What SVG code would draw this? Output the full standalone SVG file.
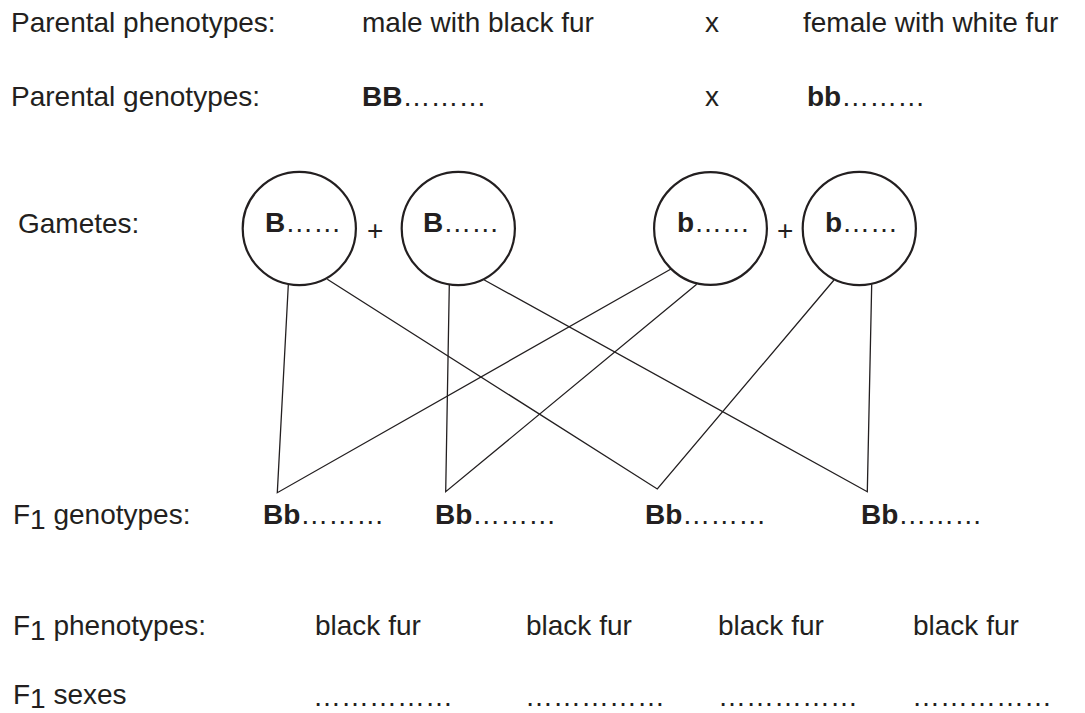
<svg xmlns="http://www.w3.org/2000/svg" width="1085" height="713" viewBox="0 0 1085 713">
<style>
text{font-family:"Liberation Sans",Arial,sans-serif;font-size:28px;fill:#231f20}
.b{font-weight:bold}
.g{fill:#fff;stroke:#231f20;stroke-width:2.2}
.c{stroke:#231f20;stroke-width:1.3;fill:none}
</style>
<rect width="1085" height="713" fill="#fff"/>
<g id="labels">
<text x="11" y="32">Parental phenotypes:</text>
<text x="362" y="32">male with black fur</text>
<text x="705" y="32">x</text>
<text x="803" y="32">female with white fur</text>
<text x="11" y="106">Parental genotypes:</text>
<text x="705" y="106">x</text>
<text x="18" y="233">Gametes:</text>
<text x="13" y="524">F<tspan dy="5">1</tspan><tspan dy="-5"> genotypes:</tspan></text>
<text x="13" y="635">F<tspan dy="5">1</tspan><tspan dy="-5"> phenotypes:</tspan></text>
<text x="13" y="704">F<tspan dy="4">1</tspan><tspan dy="-4"> sexes</tspan></text>
</g>
<g id="parent-male"><text x="362" y="106"><tspan class="b">BB</tspan>………</text></g>
<g id="parent-female"><text x="807" y="106"><tspan class="b">bb</tspan>………</text></g>
<g id="connectors">
<polyline class="c" points="288.3,285 277.3,492.7 671,269"/>
<polyline class="c" points="449.3,285 445.7,491.7 696.7,284.3"/>
<polyline class="c" points="327.3,279.3 657.3,489 834,280"/>
<polyline class="c" points="484.3,280 867.3,491.7 871.7,284.3"/>
</g>
<g id="gamete1"><circle class="g" cx="299.3" cy="228.5" r="56.6"/><text x="265" y="232"><tspan class="b">B</tspan>……</text></g>
<g id="plus1"><text x="367" y="240">+</text></g>
<g id="gamete2"><circle class="g" cx="458.3" cy="228.5" r="56.6"/><text x="423" y="232"><tspan class="b">B</tspan>……</text></g>
<g id="gamete3"><circle class="g" cx="710.5" cy="228.5" r="56.4"/><text x="677" y="232"><tspan class="b">b</tspan>……</text></g>
<g id="plus2"><text x="777" y="240">+</text></g>
<g id="gamete4"><circle class="g" cx="859.3" cy="228.5" r="56.6"/><text x="825" y="232"><tspan class="b">b</tspan>……</text></g>
<g id="f1-1"><text x="263" y="524"><tspan class="b">Bb</tspan>………</text><text x="315" y="635">black fur</text><text x="313" y="706">……………</text></g>
<g id="f1-2"><text x="435" y="524"><tspan class="b">Bb</tspan>………</text><text x="526" y="635">black fur</text><text x="525" y="706">……………</text></g>
<g id="f1-3"><text x="645" y="524"><tspan class="b">Bb</tspan>………</text><text x="718" y="635">black fur</text><text x="718" y="706">……………</text></g>
<g id="f1-4"><text x="861" y="524"><tspan class="b">Bb</tspan>………</text><text x="913" y="635">black fur</text><text x="912" y="706">……………</text></g>
</svg>
